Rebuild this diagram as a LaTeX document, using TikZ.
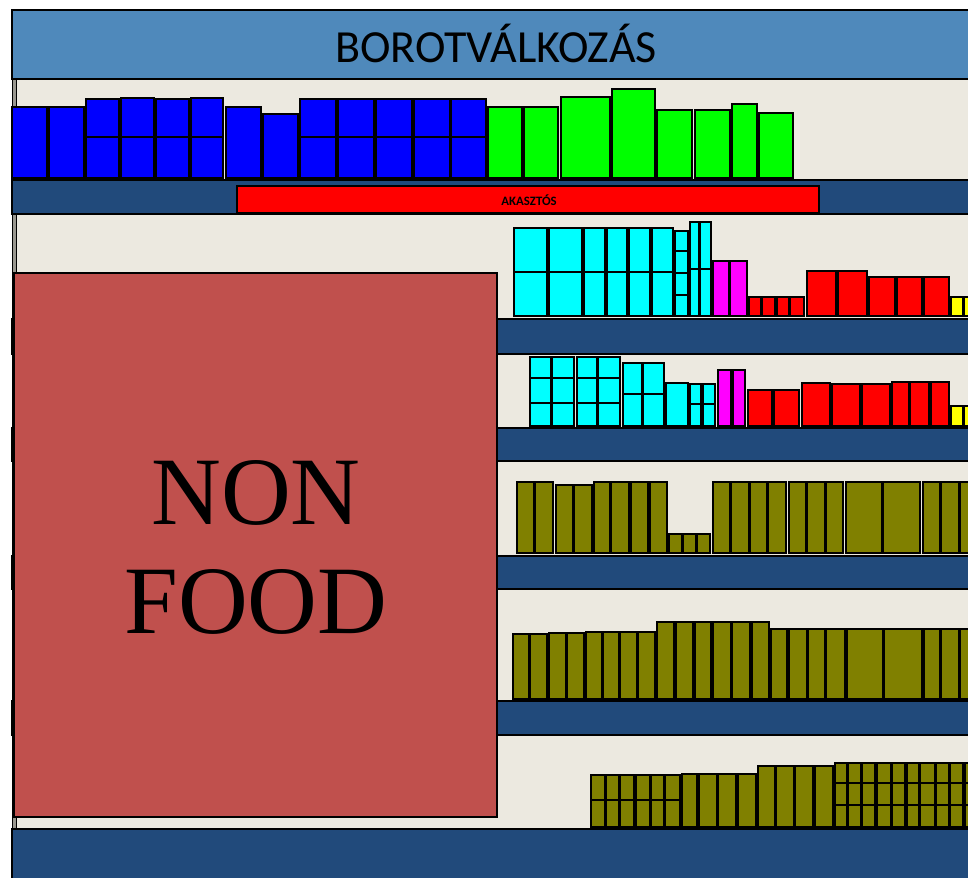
\documentclass[tikz,border=0pt]{standalone}
\usepackage{fontspec}
\setmainfont{Liberation Serif}
\newfontfamily\carl{Carlito}
\definecolor{hdr}{HTML}{4F89BB}
\definecolor{bg}{HTML}{ECE9E0}
\definecolor{shelfc}{HTML}{214A7B}
\definecolor{nonfood}{HTML}{C0504D}
\definecolor{olv}{HTML}{808000}
\definecolor{upr}{HTML}{9A9890}
\definecolor{pblue}{HTML}{0000FF}
\definecolor{pgreen}{HTML}{00FF00}
\definecolor{pcyan}{HTML}{00FFFF}
\definecolor{pmag}{HTML}{FF00FF}
\definecolor{pred}{HTML}{FF0000}
\definecolor{pyel}{HTML}{FFFF00}
\newcommand\prow[3]{\foreach \a/\b/\t in {#3} {\draw[prod,fill=#1] (\a,\t) rectangle (\b,#2);}}
\newcommand\psplit[2]{\foreach \a/\b in {#2} {\draw[prod] (\a,#1) -- (\b,#1);}}
\begin{document}
\begin{tikzpicture}[x=0.75pt,y=-0.75pt,
  prod/.style={draw=black,line width=0.8pt},
  shelfbar/.style={fill=shelfc,draw=black,line width=0.8pt}]
\useasboundingbox (0,0) rectangle (968,878);
\fill[white] (0,0) rectangle (968,878);
\clip (0,0) rectangle (968,878);
% background
\fill[bg] (12,80) rectangle (975,878);
% upright
\fill[upr] (12,80) rectangle (16,829);
\draw[line width=0.6pt] (12,80) -- (12,829) (16,80) -- (16,829);
% header
\draw[fill=hdr,line width=1pt] (12,10) rectangle (975,79);
\node[anchor=base,font=\carl\fontsize{34.5}{40}\selectfont] (title) at (496,62.5) {BOROTVÁLKOZÁS};
% shelf bars
\draw[shelfbar] (12,180) rectangle (975,214);
\draw[shelfbar] (12,319) rectangle (975,354);
\draw[shelfbar] (12,428) rectangle (975,461);
\draw[shelfbar] (12,556) rectangle (975,589);
\draw[shelfbar] (12,701) rectangle (975,735);
\draw[shelfbar] (12,829) rectangle (975,885);
% hook bar
\draw[fill=pred,line width=0.8pt] (237,186) rectangle (819,213);
\node[anchor=base,font=\carl\bfseries\fontsize{9.6}{11}\selectfont] (hook) at (529,205) {AKASZTÓS};
% shelf 1
\prow{pblue}{178}{12/47/107, 49/84/107, 86/119/99, 121/154/98, 156/189/99, 191/223/98, 226/261/107, 263/298/114, 300/336/99, 338/374/99, 376/412/99, 414/450/99, 451/486/99}
\psplit{137}{86/119,121/154,156/189,191/223,300/336,338/374,376/412,414/450,451/486}
\prow{pgreen}{178}{488/522/107, 524/558/107, 561/610/97, 612/655/89, 657/692/110, 695/730/110, 732/757/104, 759/793/113}
% shelf 2
\prow{pcyan}{316}{514/547/228, 549/582/228, 584/605/228, 607/627/228, 629/650/228, 652/673/228, 675/688/231, 690/699/222, 700/711/222}
\psplit{272}{514/547, 549/582, 584/605, 607/627, 629/650, 652/673}
\psplit{251}{675/688}
\psplit{273}{675/688}
\psplit{295}{675/688}
\psplit{269}{690/699, 700/711}
\prow{pmag}{316}{713/729/261, 730/747/261}
\prow{pred}{316}{749/761/297, 762/775/297, 777/789/297, 790/804/297, 807/836/271, 838/867/271, 869/895/277, 897/922/277, 924/949/277}
\prow{pyel}{316}{951/963/297, 964/976/297}
% shelf 3
\prow{pcyan}{426}{530/551/357, 552/574/357, 577/597/357, 598/620/357, 623/642/363, 643/664/363, 666/688/383, 690/701/384, 703/715/384}
\psplit{378}{530/551, 552/574, 577/597, 598/620}
\psplit{403}{530/551, 552/574, 577/597, 598/620}
\psplit{394}{623/642, 643/664}
\psplit{404}{690/701, 703/715}
\prow{pmag}{426}{718/731/370, 733/745/370}
\prow{pred}{426}{748/772/390, 774/799/390, 802/830/383, 832/860/384, 862/890/384, 892/909/382, 910/929/382, 931/949/382}
\prow{pyel}{426}{951/963/406, 964/976/406}
% shelf 4
\prow{olv}{553}{517/534/482, 535/553/482, 556/573/485, 574/592/485, 594/610/482, 611/629/482, 631/648/482, 650/667/482, 669/682/534, 683/696/534, 697/710/534, 713/730/482, 731/749/482, 750/767/482, 768/786/482, 789/806/482, 807/825/482, 826/843/482, 846/882/482, 883/920/482, 923/940/482, 941/959/482, 960/977/482}
% shelf 5
\prow{olv}{699}{513/529/634, 530/547/634, 549/566/633, 567/584/633, 586/602/632, 603/619/632, 620/637/632, 638/655/632, 657/674/622, 676/693/622, 695/711/622, 713/731/622, 732/750/622, 752/769/622, 771/787/629, 789/807/629, 808/825/629, 826/845/629, 847/883/629, 884/922/629, 924/940/629, 941/959/629, 960/977/629}
% shelf 6
\prow{olv}{827}{591/605/775, 606/619/775, 620/634/775, 636/650/775, 651/664/775, 665/680/775}
\psplit{800}{591/605, 606/619, 620/634, 636/650, 651/664, 665/680}
\prow{olv}{827}{682/697/774, 699/717/774, 718/736/774, 738/756/774, 758/775/766, 776/794/766, 795/813/766, 815/833/766}
\prow{olv}{827}{835/847/763, 848/861/763, 862/875/763, 877/891/763, 892/905/763, 907/919/763, 920/935/763, 936/949/763, 950/963/763, 965/977/763}
\psplit{783}{835/847, 848/861, 862/875, 877/891, 892/905, 907/919, 920/935, 936/949, 950/963, 965/977}
\psplit{805}{835/847, 848/861, 862/875, 877/891, 892/905, 907/919, 920/935, 936/949, 950/963, 965/977}
% non food block
\draw[fill=nonfood,line width=0.8pt] (14,273) rectangle (497,817);
\node[anchor=base,font=\fontsize{72.5}{81}\selectfont] (non) at (256,524) {NON};
\node[anchor=base,font=\fontsize{72.5}{81}\selectfont] (food) at (256,633) {FOOD};
\end{tikzpicture}
\end{document}
